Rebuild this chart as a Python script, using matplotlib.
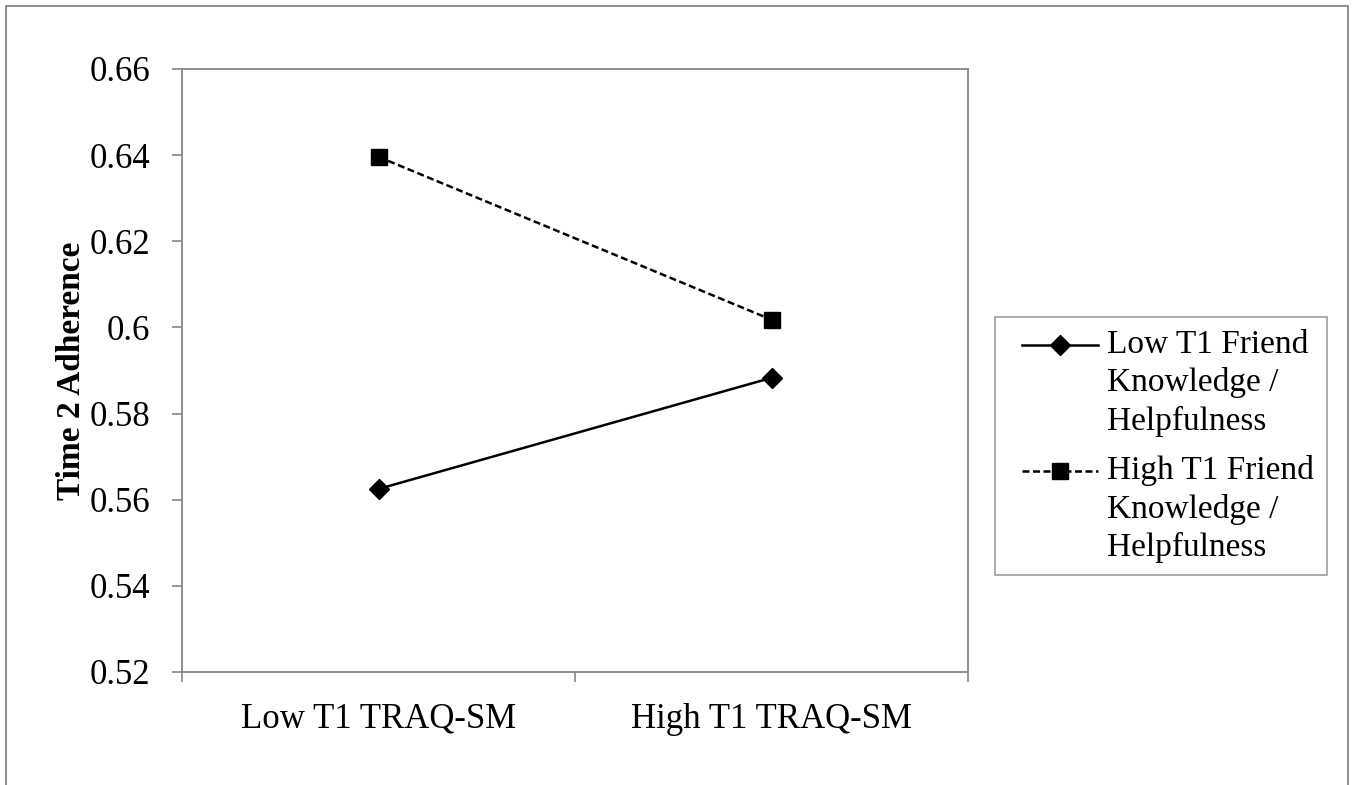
import numpy as np
import matplotlib.pyplot as plt
from matplotlib.patches import Rectangle
from matplotlib.legend_handler import HandlerLine2D

# data
conditions = ['Low T1 TRAQ-SM', 'High T1 TRAQ-SM']
low_friend = [0.5625, 0.5883]
high_friend = [0.6396, 0.6018]
series_labels = ['Low T1 Friend\nKnowledge /\nHelpfulness',
                 'High T1 Friend\nKnowledge /\nHelpfulness']
yticks = [0.52, 0.54, 0.56, 0.58, 0.6, 0.62, 0.64, 0.66]
ytick_labels = ['0.52', '0.54', '0.56', '0.58', '0.6', '0.62', '0.64', '0.66']


class TopLineHandler(HandlerLine2D):
    # put the legend key next to the first text line (Excel style)
    def __init__(self, dy, dx, **kw):
        super().__init__(**kw)
        self.dy = dy
        self.dx = dx

    def create_artists(self, legend, orig_handle, xdescent, ydescent,
                       width, height, fontsize, trans):
        arts = super().create_artists(legend, orig_handle, xdescent, ydescent,
                                      width, height, fontsize, trans)
        for a in arts:
            x = np.asarray(a.get_xdata(), dtype=float)
            y = np.asarray(a.get_ydata(), dtype=float)
            a.set_xdata(np.linspace(x[0] + self.dx, x[-1], len(x)))
            a.set_ydata(y + self.dy)
        return arts


plt.rcParams['font.family'] = ['Liberation Serif', 'DejaVu Serif']

fig = plt.figure(figsize=(13.57, 7.85), dpi=100)
ax = fig.add_axes([182/1357, 1-672/785, 786/1357, 603/785])

xpos = [0.5, 1.5]
l1, = ax.plot(xpos, low_friend, color='black', lw=1.8, marker='D', ms=10,
              label=series_labels[0])
l2, = ax.plot(xpos, high_friend, color='black', lw=1.8, marker='s', ms=12,
              dashes=(2.8, 1.4), label=series_labels[1])

ax.set_xlim(0, 2)
ax.set_ylim(0.52, 0.66)
ax.set_yticks(yticks)
ax.set_yticklabels(ytick_labels)
ax.set_xticks(xpos)
ax.set_xticklabels(conditions)
ax.set_xticks([0, 1, 2], minor=True)

gray = '#868686'
for s in ax.spines.values():
    s.set_color(gray)
    s.set_linewidth(1.3)
ax.tick_params(axis='y', length=7, width=1.2, color=gray, labelsize=25, pad=16)
ax.tick_params(axis='x', which='major', length=0, labelsize=25, pad=22)
ax.tick_params(axis='x', which='minor', length=7, width=1.2, color=gray)

ax.set_ylabel('Time 2 Adherence', fontsize=24, fontweight='bold', labelpad=2)

hmap = {l1: TopLineHandler(27.4, 10.6), l2: TopLineHandler(27.4, 10.6)}
leg = ax.legend(loc='upper left', bbox_to_anchor=(995/1357, 1-317/785),
                bbox_transform=fig.transFigure, fontsize=24, frameon=True,
                fancybox=False, edgecolor=gray, handlelength=2.7,
                handletextpad=0.28, borderpad=0.38, labelspacing=0.56,
                borderaxespad=0, handler_map=hmap)
leg.get_frame().set_linewidth(1.2)
for t in leg.get_texts():
    t.set_linespacing(1.3)

# outer chart border
fig.add_artist(Rectangle((6/1357, -0.02), 1342/1357, 1.02 - 6/785,
                         transform=fig.transFigure, fill=False,
                         edgecolor=gray, lw=1.3, clip_on=False))

fig.savefig('out.png', dpi=100)
